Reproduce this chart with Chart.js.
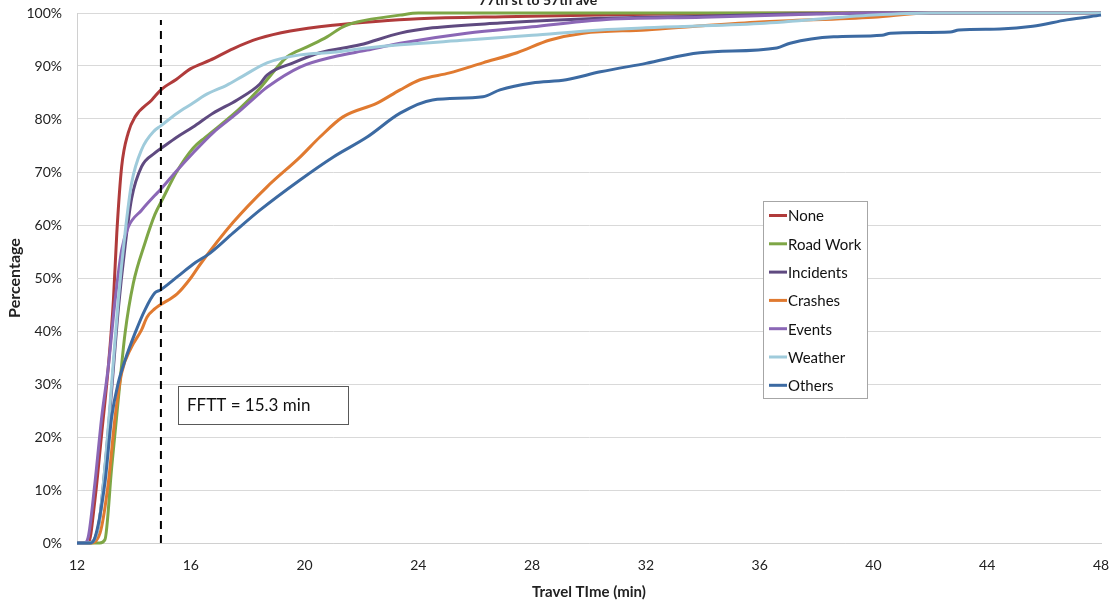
<!DOCTYPE html>
<html lang="en">

<head>
    <meta charset="UTF-8" />
    <title>Travel Time Distribution</title>
    <script src="https://cdn.jsdelivr.net/npm/chart.js"></script>
    <style>
        body {
            margin: 0;
            background: #fff;
            overflow: hidden;
        }

        .wrap {
            position: relative;
            width: 1115px;
            height: 604px;
            overflow: hidden;
        }

        #chart {
            position: absolute;
            top: -20px;
            left: 0;
        }
    </style>
</head>

<body>
    <div class="wrap">
        <canvas id="chart" width="1115" height="624"></canvas>
    </div>

    <script>
        // Dados (tempo em min, percentagem acumulada)
        const seriesNames = ["None", "Road Work", "Incidents", "Crashes", "Events", "Weather", "Others"];
        const seriesColors = ["#B03B3B", "#7EA646", "#5F4A80", "#E07A30", "#8B67B6", "#9FCBDB", "#3C6AA2"];

        const timeNone = [12, 12.4, 12.63, 12.87, 13.1, 13.28, 13.4, 13.57, 13.8, 14.04, 14.63, 14.95, 15.5, 16, 16.68, 17.5, 18.4, 19.5, 21, 22.5, 24, 27, 30.4, 34, 38, 48];
        const pctNone = [0, 0, 8.1, 20.8, 33.2, 45.8, 58.5, 71, 77.4, 80.4, 83.6, 85.5, 87.5, 89.5, 91.1, 93.3, 95.2, 96.6, 97.7, 98.4, 98.9, 99.3, 99.6, 99.9, 100, 100];

        const timeRoadWork = [12, 12.8, 12.98, 13.22, 13.45, 13.69, 13.98, 14.39, 14.74, 15.02, 15.5, 16.08, 16.5, 17.03, 17.73, 18.43, 18.68, 19.38, 20.09, 20.79, 21.35, 21.85, 23.36, 24, 48];
        const pctRoadWork = [0, 0, 0.6, 14.3, 27, 39.6, 49, 56.6, 62, 65, 70, 74.5, 76.5, 78.8, 82, 85.8, 87.4, 91.7, 93.6, 95.5, 97.4, 98.3, 99.6, 100, 100];

        const timeIncidents = [12, 12.4, 12.75, 12.98, 13.22, 13.45, 13.69, 13.92, 14.27, 14.74, 15.02, 15.52, 16.08, 16.78, 17.63, 18.43, 18.68, 19.6, 20.54, 21.95, 23.36, 24.5, 26.87, 30.4, 34, 37, 40, 48];
        const pctIncidents = [0, 0, 3, 14, 29, 44, 56, 65, 71, 73.6, 74.7, 76.6, 78.5, 81.1, 83.6, 86.6, 88.3, 90.6, 92.5, 94, 96.2, 97.2, 98.1, 99, 99.4, 99.8, 100, 100];

        const timeCrashes = [12, 12.45, 12.81, 13.1, 13.34, 13.57, 13.92, 14.27, 14.46, 14.74, 14.92, 15.52, 16, 16.32, 17.49, 18.68, 19.84, 20.54, 21.35, 22.55, 23.36, 24.06, 25.1, 26.27, 27.47, 28.63, 29.8, 32, 34, 36, 40, 42, 48];
        const pctCrashes = [0, 0, 1.9, 11.3, 23.8, 32.1, 37, 40.2, 42.6, 44.2, 44.9, 47, 50, 52.5, 60.5, 67.2, 72.8, 76.6, 80.4, 83, 85.5, 87.4, 88.7, 90.6, 92.5, 94.9, 96.2, 96.8, 97.6, 98.3, 99.2, 100, 100];

        const timeEvents = [12, 12.25, 12.39, 12.63, 12.87, 13.1, 13.34, 13.57, 13.8, 14.27, 14.74, 14.92, 15.5, 16.08, 16.78, 17.63, 18.43, 18.68, 19.84, 21, 22.2, 23.36, 25.7, 28, 30.4, 34, 38, 40, 48];
        const pctEvents = [0, 0, 1, 11.3, 23.8, 33.2, 45.8, 55.3, 59.6, 62.8, 65.6, 66.6, 70.2, 73.6, 77.4, 81.1, 84.9, 86, 89.8, 91.7, 93, 94.3, 96.2, 97.4, 98.7, 99.2, 99.8, 100, 100];

        const timeWeather = [12, 12.4, 12.75, 12.98, 13.22, 13.45, 13.69, 13.92, 14.27, 14.74, 14.92, 15.52, 16.08, 16.5, 17.27, 17.8, 18.68, 19.84, 21, 22.2, 23.36, 25.7, 28, 30.4, 32, 36, 40, 42, 48];
        const pctWeather = [0, 0, 3, 14.3, 30.2, 45.8, 58.5, 67.9, 74.2, 77.9, 78.6, 81.1, 83, 84.5, 86.4, 88, 90.6, 92.1, 92.6, 93.4, 94, 94.9, 95.8, 96.8, 97.2, 98, 99.6, 100, 100];

        const timeOthers = [12, 12.45, 12.63, 12.98, 13.22, 13.45, 13.69, 14.04, 14.39, 14.74, 14.92, 15.52, 16.08, 16.68, 17.49, 18.43, 19.84, 21, 22.2, 23.36, 24.5, 26.27, 26.87, 28, 29.2, 30.4, 32, 33.9, 36.6, 37.07, 38.6, 40.3, 40.6, 42.7, 43, 44.45, 45.6, 46.8, 48];
        const pctOthers = [0, 0, 1, 11.3, 23.8, 30.2, 34.5, 39.6, 44, 47.2, 47.7, 50.2, 52.6, 54.7, 58.5, 62.8, 68.5, 72.8, 76.6, 81.1, 83.6, 84.2, 85.5, 86.8, 87.4, 88.9, 90.5, 92.5, 93.4, 94.3, 95.5, 95.8, 96.2, 96.4, 96.8, 97, 97.5, 98.7, 99.6];

        // linha FFTT (tracejada)
        const ffttTime = [14.95, 14.95];
        const ffttPct = [0, 98.7];
        const ffttLabel = "FFTT = 15.3 min";

        const chartTitle = "77th st to 57th ave";
        const xTitle = "Travel TIme (min)";
        const yTitle = "Percentage";

        const allTimes = [timeNone, timeRoadWork, timeIncidents, timeCrashes, timeEvents, timeWeather, timeOthers];
        const allPcts = [pctNone, pctRoadWork, pctIncidents, pctCrashes, pctEvents, pctWeather, pctOthers];

        const FONT = "Lato, 'Open Sans', sans-serif";
        const SHIFT = 20; // canvas deslocado para cima

        function toXY(xs, ys) {
            return xs.map((x, i) => ({ x: x, y: ys[i] }));
        }

        const datasets = seriesNames.map((name, i) => ({
            label: name,
            data: toXY(allTimes[i], allPcts[i]),
            borderColor: seriesColors[i],
            borderWidth: 3,
            pointRadius: 0,
            cubicInterpolationMode: "monotone",
            clip: 4,
            order: 7 - i
        }));

        datasets.push({
            label: "FFTT",
            data: toXY(ffttTime, ffttPct),
            borderColor: "#000",
            borderWidth: 2,
            borderDash: [8, 6],
            pointRadius: 0,
            order: 0
        });

        // título cortado, caixa FFTT e legenda desenhados por cima
        const extrasPlugin = {
            id: "extras",
            afterDraw(chart) {
                const ctx = chart.ctx;
                ctx.save();

                ctx.fillStyle = "#222";
                ctx.font = "bold 14px " + FONT;
                ctx.textAlign = "center";
                ctx.textBaseline = "alphabetic";
                ctx.fillText(chartTitle, 538, 5 + SHIFT);

                // caixa FFTT
                ctx.fillStyle = "#fff";
                ctx.fillRect(178, 386 + SHIFT, 170, 38);
                ctx.strokeStyle = "#595959";
                ctx.lineWidth = 1;
                ctx.strokeRect(178.5, 386.5 + SHIFT, 170, 38);
                ctx.fillStyle = "#111";
                ctx.font = "17px " + FONT;
                ctx.textAlign = "left";
                ctx.textBaseline = "middle";
                ctx.fillText(ffttLabel, 187, 406 + SHIFT);

                // legenda
                ctx.fillStyle = "#fff";
                ctx.fillRect(763, 201 + SHIFT, 104, 197);
                ctx.strokeStyle = "#A6A6A6";
                ctx.strokeRect(763.5, 201.5 + SHIFT, 104, 197);
                ctx.font = "15px " + FONT;
                seriesNames.forEach((name, i) => {
                    const y = 215.5 + i * 28.3 + SHIFT;
                    ctx.strokeStyle = seriesColors[i];
                    ctx.lineWidth = 3;
                    ctx.beginPath();
                    ctx.moveTo(769, y);
                    ctx.lineTo(787, y);
                    ctx.stroke();
                    ctx.fillStyle = "#111";
                    ctx.fillText(name, 788, y + 1);
                });

                ctx.restore();
            }
        };

        new Chart(document.getElementById("chart"), {
            type: "line",
            data: { datasets: datasets },
            plugins: [extrasPlugin],
            options: {
                responsive: false,
                animation: false,
                layout: { padding: { top: 13 + SHIFT, right: 14, left: 0, bottom: 0 } },
                plugins: {
                    legend: { display: false },
                    tooltip: { enabled: false }
                },
                scales: {
                    x: {
                        type: "linear",
                        min: 12,
                        max: 48,
                        afterFit: s => {
                            s.height = 624 - 563;
                            s.paddingLeft = 0;
                            s.paddingRight = 0;
                        },
                        ticks: {
                            stepSize: 4,
                            padding: 14,
                            color: "#222",
                            font: { family: FONT, size: 14 }
                        },
                        grid: { display: false, drawTicks: false },
                        border: { display: true, color: "#D0D0D0" },
                        title: {
                            display: true,
                            text: xTitle,
                            color: "#222",
                            font: { family: FONT, size: 15, weight: "bold" },
                            padding: { top: 0, bottom: 3 }
                        }
                    },
                    y: {
                        min: 0,
                        max: 100,
                        afterFit: s => { s.width = 77; },
                        ticks: {
                            stepSize: 10,
                            padding: 15,
                            color: "#222",
                            font: { family: FONT, size: 14 },
                            callback: v => v + "%"
                        },
                        grid: { color: "#D9D9D9", drawTicks: false },
                        border: { display: true, color: "#D0D0D0" },
                        title: {
                            display: true,
                            text: yTitle,
                            color: "#222",
                            font: { family: FONT, size: 16, weight: "bold" },
                            padding: { top: 5, bottom: 0 }
                        }
                    }
                }
            }
        });
    </script>
</body>

</html>
